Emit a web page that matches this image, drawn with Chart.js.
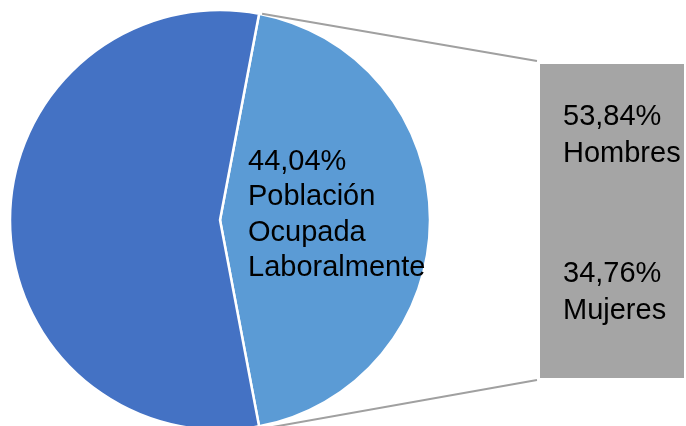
<!DOCTYPE html>
<html>
<head>
<meta charset="utf-8">
<script src="https://cdn.jsdelivr.net/npm/chart.js@4.4.0/dist/chart.umd.min.js"></script>
<style>
  html, body { margin: 0; padding: 0; background: #fff; overflow: hidden; }
  #pieBox { position: absolute; left: 0; top: 0; width: 686px; height: 426px; }
  #barBox { position: absolute; left: 540px; top: 64px; width: 144px; height: 314px; }
</style>
</head>
<body>
<div id="pieBox"><canvas id="pie"></canvas></div>
<div id="barBox"><canvas id="bar"></canvas></div>
<script>
// pie: share of population
const pieLabels = ['Población Ocupada Laboralmente', 'Resto'];
const pieValues = [44.04, 55.96];
const pieText = ['44,04%', 'Población', 'Ocupada', 'Laboralmente'];

// bar: breakdown of the light slice
const barLabels = ['Mujeres', 'Hombres'];
const barValues = [34.76, 53.84];
const barText = [['34,76%', 'Mujeres'], ['53,84%', 'Hombres']];

const font = '29px "Liberation Sans", Arial, sans-serif';
const barLeft = 540, barTop = 64;
let barChart;

// labels in bar segments
const barLabelPlugin = {
  id: 'barLabels',
  afterDatasetsDraw(chart) {
    const ctx = chart.ctx;
    ctx.save();
    ctx.font = font;
    ctx.fillStyle = '#000';
    ctx.textBaseline = 'middle';
    ctx.textAlign = 'left';
    chart.data.datasets.forEach((ds, i) => {
      const el = chart.getDatasetMeta(i).data[0];
      const cy = (el.y + el.base) / 2 - 24;
      const left = el.x - el.width / 2 + 23;
      const lines = barText[i];
      lines.forEach((t, j) => {
        ctx.fillText(t, left, cy + (j - 0.5) * 36.5);
      });
    });
    ctx.restore();
  }
};

// pie label + connector lines
const piePlugin = {
  id: 'pieExtras',
  afterDatasetsDraw(chart) {
    const ctx = chart.ctx;
    const arc = chart.getDatasetMeta(0).data[0];
    ctx.save();
    ctx.font = font;
    ctx.fillStyle = '#000';
    ctx.textBaseline = 'middle';
    ctx.textAlign = 'left';
    pieText.forEach((t, j) => {
      ctx.fillText(t, arc.x + 28, arc.y - 5 + (j - 1.5) * 35.5);
    });

    // connectors to the bar
    const r = arc.outerRadius;
    const p1 = [arc.x + r * Math.cos(arc.startAngle), arc.y + r * Math.sin(arc.startAngle)];
    const p2 = [arc.x + r * Math.cos(arc.endAngle), arc.y + r * Math.sin(arc.endAngle)];
    const bars = barChart.getDatasetMeta(barChart.data.datasets.length - 1).data[0];
    const bottom = barChart.getDatasetMeta(0).data[0];
    const bx = barLeft + bars.x - bars.width / 2 - 3;
    const by1 = barTop + bars.y - 3;
    const by2 = barTop + bottom.base + 2;
    ctx.strokeStyle = '#A0A0A0';
    ctx.lineWidth = 2;
    ctx.beginPath();
    ctx.moveTo(p1[0] + 3, p1[1]);
    ctx.lineTo(bx, by1);
    ctx.moveTo(p2[0] + 6, p2[1] + 2);
    ctx.lineTo(bx, by2);
    ctx.stroke();
    ctx.restore();
  }
};

barChart = new Chart(document.getElementById('bar'), {
  type: 'bar',
  data: {
    labels: [''],
    datasets: barLabels.map((l, i) => ({
      label: l,
      data: [barValues[i]],
      backgroundColor: '#A5A5A5',
      borderWidth: 0,
      categoryPercentage: 1,
      barPercentage: 1
    }))
  },
  options: {
    responsive: true,
    maintainAspectRatio: false,
    animation: false,
    layout: { padding: 0 },
    plugins: { legend: { display: false }, tooltip: { enabled: false } },
    scales: {
      x: { stacked: true, display: false },
      y: { stacked: true, display: false, min: 0, max: barValues.reduce((a, b) => a + b, 0) }
    }
  },
  plugins: [barLabelPlugin]
});

new Chart(document.getElementById('pie'), {
  type: 'pie',
  data: {
    labels: pieLabels,
    datasets: [{
      data: pieValues,
      backgroundColor: ['#5B9BD5', '#4472C4'],
      borderColor: '#fff',
      borderWidth: 2.5,
      clip: false
    }]
  },
  options: {
    responsive: true,
    maintainAspectRatio: false,
    animation: false,
    radius: 210,
    rotation: 90 - pieValues[0] * 3.6 / 2,
    layout: { padding: { left: 10, right: 256, top: 14, bottom: 0 } },
    plugins: { legend: { display: false }, tooltip: { enabled: false } }
  },
  plugins: [piePlugin]
});
</script>
</body>
</html>
